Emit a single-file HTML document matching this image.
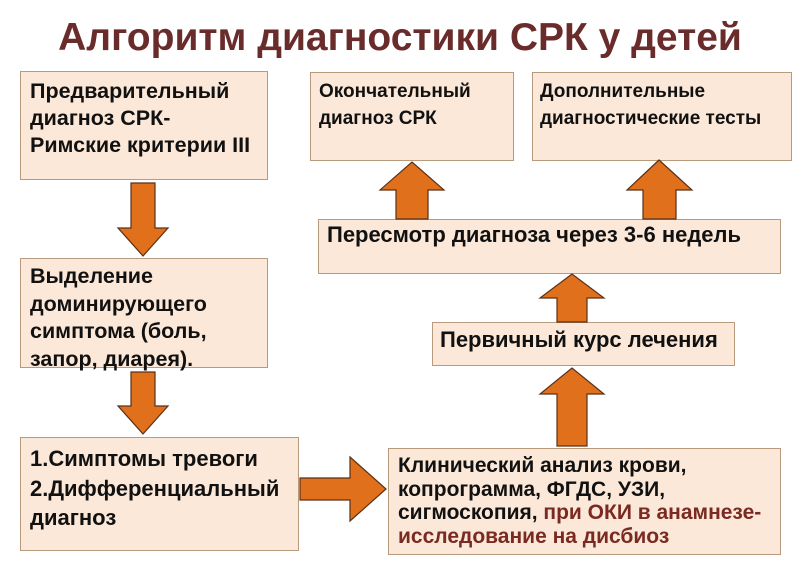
<!DOCTYPE html>
<html><head><meta charset="utf-8"><style>
body{margin:0;width:800px;height:573px;background:#fff;position:relative;overflow:hidden;font-family:"Liberation Sans",sans-serif;font-weight:bold;color:#111}
.b{position:absolute;background:#fbe8d8;border:1.5px solid #b89a7c;box-sizing:border-box}
.t{position:absolute;white-space:nowrap}
h1{position:absolute;margin:0;left:0;width:800px;text-align:center;top:16px;font-size:39px;color:#6a2b2b}
svg{position:absolute;left:0;top:0}
</style></head><body>
<h1>Алгоритм диагностики СРК у детей</h1>
<div class="b" style="left:20px;top:71px;width:248px;height:109px"></div>
<div class="t" style="left:30px;top:78px;font-size:21.5px;line-height:27px">Предварительный<br>диагноз СРК-<br>Римские критерии III</div>
<div class="b" style="left:20px;top:258px;width:248px;height:110px"></div>
<div class="t" style="left:30px;top:263px;font-size:21.5px;line-height:27.5px">Выделение<br>доминирующего<br>симптома (боль,<br>запор, диарея).</div>
<div class="b" style="left:20px;top:437px;width:279px;height:114px"></div>
<div class="t" style="left:30px;top:444px;font-size:22px;line-height:29.5px">1.Симптомы тревоги<br>2.Дифференциальный<br>диагноз</div>
<div class="b" style="left:388px;top:448px;width:393px;height:107px"></div>
<div class="t" style="left:398px;top:454px;font-size:21px;line-height:23.5px">Клинический анализ крови,<br>копрограмма, ФГДС, УЗИ,<br>сигмоскопия, <span style="color:#7a2a22">при ОКИ в анамнезе-<br>исследование на дисбиоз</span></div>
<div class="b" style="left:432px;top:322px;width:303px;height:44px"></div>
<div class="t" style="left:440px;top:327px;font-size:22px">Первичный курс лечения</div>
<div class="b" style="left:318px;top:219px;width:463px;height:55px"></div>
<div class="t" style="left:327px;top:222px;font-size:22px">Пересмотр диагноза через 3-6 недель</div>
<div class="b" style="left:310px;top:72px;width:204px;height:89px"></div>
<div class="t" style="left:319px;top:78px;font-size:19px;line-height:27px">Окончательный<br>диагноз СРК</div>
<div class="b" style="left:532px;top:72px;width:260px;height:89px"></div>
<div class="t" style="left:540px;top:78px;font-size:19px;line-height:27px">Дополнительные<br>диагностические тесты</div>
<svg width="800" height="573"><g fill="#e0701c" stroke="#5a3018" stroke-width="1.2">
<polygon points="131,183 155,183 155,228 168,228 143,256 118,228 131,228"/>
<polygon points="131,372 155,372 155,406 168,406 143,434 118,406 131,406"/>
<polygon points="300,478 350,478 350,457 386,489 350,521 350,500 300,500"/>
<polygon points="557,446 587,446 587,394 604,394 572,368 540,394 557,394"/>
<polygon points="557,322 587,322 587,298 604,298 572,274 540,298 557,298"/>
<polygon points="396,219 428,219 428,190 444,190 412,162 380,190 396,190"/>
<polygon points="643,219 676,219 676,190 692,190 659,160 627,190 643,190"/>
</g></svg>
</body></html>
